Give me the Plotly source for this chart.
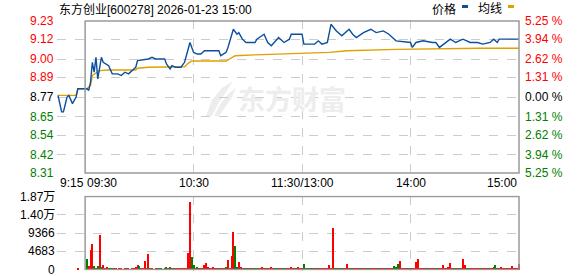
import plotly.graph_objects as go

W, H = 578, 276

# ---------------- data ----------------
title_text = "东方创业[600278] 2026-01-23 15:00"
prev_close = 8.77

# minutes since 9:15 (lunch break removed: 15 = 9:30, 135 = 11:30/13:00, 255 = 15:00)
price_min = [0, 2, 3, 5, 6, 8, 10, 11, 16, 17, 18, 19, 20, 21, 22, 24, 25, 28, 30, 33,
             35, 37, 39, 41, 43, 44, 50, 52, 54, 59, 60, 62, 63, 65, 68, 70, 73, 75, 77, 79,
             81, 89, 90, 93, 94, 97, 99, 100, 102, 104, 109, 110, 114, 116, 118, 122, 125, 128, 129, 135,
             136, 142, 144, 146, 149, 151, 154, 157, 161, 163, 165, 169, 173, 176, 180, 183, 185, 187, 195, 196,
             198, 202, 207, 209, 211, 217, 220, 224, 228, 232, 235, 239, 241, 243, 244, 255]
price_val = [8.78, 8.68, 8.68, 8.77, 8.78, 8.73, 8.77, 8.82, 8.82, 8.81, 8.86, 8.98, 8.92, 9.01, 8.88, 9.01, 8.98, 8.96, 8.91, 8.91,
             8.90, 8.92, 8.91, 8.93, 8.95, 8.99, 9.00, 9.01, 9.00, 9.00, 8.97, 8.94, 8.96, 8.95, 8.95, 8.98, 9.10, 9.04, 9.03, 9.03,
             9.05, 9.05, 9.02, 9.04, 9.07, 9.18, 9.15, 9.16, 9.12, 9.10, 9.10, 9.12, 9.15, 9.10, 9.08, 9.13, 9.10, 9.12, 9.15, 9.15,
             9.09, 9.09, 9.11, 9.09, 9.10, 9.21, 9.17, 9.14, 9.18, 9.15, 9.13, 9.16, 9.18, 9.16, 9.17, 9.15, 9.13, 9.11, 9.10, 9.07,
             9.10, 9.11, 9.10, 9.10, 9.07, 9.12, 9.10, 9.12, 9.10, 9.10, 9.09, 9.10, 9.12, 9.10, 9.12, 9.12]

avg_min = [0, 10, 11, 16, 18, 19, 23, 28, 43, 44, 50, 70, 72, 74, 93, 98, 109, 128, 150, 160, 187, 233, 255]
avg_val = [8.78, 8.78, 8.82, 8.82, 8.84, 8.90, 8.93, 8.933, 8.933, 8.944, 8.95, 8.953, 8.974, 8.988, 8.988,
           9.02, 9.025, 9.03, 9.04, 9.05, 9.058, 9.065, 9.065]

# volume per minute, minute 0 .. 255
volume = [
    0, 0, 0, 0, 0, 0, 0, 0, 0, 0, 0, 400, 0, 0, 0, 0,
    2900, 1100, 5200, 6700, 1100, 500, 1100, 8900, 850, 1400, 500, 850, 300, 300, 300, 300,
    300, 250, 300, 300, 250, 300, 300, 300, 250, 300, 300, 850, 1200, 1000, 300, 300,
    2200, 300, 4200, 300, 300, 250, 300, 300, 300, 300, 250, 300, 850, 300, 850, 300,
    300, 300, 300, 300, 300, 300, 300, 300, 4400, 17400, 3400, 1400, 300, 850, 300, 600,
    300, 1400, 1900, 850, 300, 300, 850, 300, 300, 600, 300, 300, 300, 850, 2650, 300,
    3700, 9800, 6200, 850, 2100, 850, 300, 300, 300, 300, 300, 300, 300, 300, 300, 300,
    300, 850, 300, 300, 300, 300, 850, 300, 300, 300, 300, 300, 300, 300, 300, 300,
    300, 750, 300, 300, 300, 750, 300, 300, 1500, 300, 300, 300, 300, 300, 300, 300,
    300, 300, 300, 300, 300, 300, 1300, 300, 10800, 300, 300, 300, 300, 300, 300, 300,
    1500, 300, 300, 300, 300, 300, 300, 300, 300, 300, 300, 300, 300, 300, 300, 300,
    300, 300, 300, 300, 300, 300, 300, 300, 300, 300, 1000, 700, 1500, 2300, 300, 400,
    300, 300, 300, 300, 300, 300, 2050, 2800, 300, 300, 300, 300, 300, 300, 300, 300,
    300, 300, 300, 300, 300, 1300, 300, 300, 700, 1800, 400, 300, 300, 300, 300, 300,
    2800, 1300, 300, 300, 300, 300, 300, 300, 300, 300, 300, 300, 300, 300, 300, 300,
    300, 700, 1300, 300, 300, 700, 300, 300, 300, 300, 300, 1000, 300, 300, 300, 1500,
]
# r = up minute, g = down minute
vol_dir = (
    "rrrrrrrrrrrrrrrr"
    "grrrgggrgrrrgggr"
    "rrrrrrgrrrrrrgrr"
    "rrrgrgrrggrggrgr"
    "rgrrrrrrrrggrgrr"
    "grrrrrrrrgrrrgrr"
    "rrggrrrggrggrggr"
    "rrrrgrrrggrrggrr"
    "rrrgrrrrgrgggrrg"
    "rrrrrrrrrggrggrr"
    "rrggrrrgrrrggrrr"
    "rgrrrgrrrrgggrrr"
    "rrggrrrrrrrrggrr"
    "rggrrrrrrrrggrgr"
    "rrggrrrrrrgrrrrg"
    "rrggrrrrrrrrrrrr"
)

price_ticks = [9.23, 9.12, 9.00, 8.89, 8.77, 8.65, 8.54, 8.42, 8.31]
pct_labels = ["5.25 %", "3.94 %", "2.62 %", "1.31 %", "0.00 %", "1.31 %", "2.62 %", "3.94 %", "5.25 %"]
vol_ticks = [18732, 14049, 9366, 4683, 0]
vol_labels = ["1.87万", "1.40万", "9366", "4683", "0"]
time_ticks = [0, 15, 75, 135, 195, 255]
time_labels = ["9:15", "09:30", "10:30", "11:30/13:00", "14:00", "15:00"]
legend_names = ["价格", "均线"]

# ---------------- style ----------------
RED, GREEN, BLACK = "#ff0000", "#008000", "#000000"
BLUE, GOLD = "#0b4f9e", "#e0a000"
FRAME, GRID = "#9a9a9a", "#cccccc"
FONT = "Liberation Sans, Noto Sans CJK SC, sans-serif"
WM = "#ededed"


def px_x(p):
    return p / W


def px_y(p):
    return 1 - p / H


p_top, p_bot = 9.23, 8.31
p_per_px = (p_top - p_bot) / 152.0
v_per_px = 18732 / 73.0
m_per_px = 255 / 461.0

fig = go.Figure()

fig.add_trace(go.Scatter(x=avg_min, y=avg_val, mode="lines",
                         line=dict(color=GOLD, width=1.4), xaxis="x", yaxis="y"))
fig.add_trace(go.Scatter(x=price_min, y=price_val, mode="lines",
                         line=dict(color=BLUE, width=1.4), xaxis="x", yaxis="y"))

bar_colors = [RED if d == "r" else GREEN for d in vol_dir]
fig.add_trace(go.Bar(x=list(range(len(volume))), y=volume, marker=dict(color=bar_colors, line=dict(width=0)),
                     width=0.6, xaxis="x2", yaxis="y2"))

xr = [-m_per_px, 255 + m_per_px]
xdom = [px_x(58 - 1), px_x(519 + 1)]
axis_common = dict(showline=False, zeroline=False, ticks="", showticklabels=False,
                   gridcolor=GRID, griddash="dash", gridwidth=1, fixedrange=True)

fig.update_layout(
    width=W, height=H, margin=dict(l=0, r=0, t=0, b=0), autosize=False,
    paper_bgcolor="white", plot_bgcolor="white", showlegend=False, bargap=0,
    xaxis=dict(domain=xdom, range=xr, tickmode="array", tickvals=[0, 75, 135, 195],
               showgrid=True, anchor="y", **axis_common),
    yaxis=dict(domain=[px_y(173 + 1), px_y(21 - 1)], range=[p_bot - p_per_px, p_top + p_per_px],
               tickmode="array", tickvals=price_ticks, showgrid=True, anchor="x", **axis_common),
    xaxis2=dict(domain=xdom, range=xr, tickmode="array", tickvals=[0, 75, 135, 195],
                showgrid=True, anchor="y2", **axis_common),
    yaxis2=dict(domain=[px_y(269.5 + 1), px_y(196.5 - 1)], range=[-v_per_px, 18732 + v_per_px],
                tickmode="array", tickvals=vol_ticks, showgrid=True, anchor="x2", **axis_common),
)

# watermark logo (light swoosh strokes), drawn below the data
def pth(points):
    s = "M " + " L ".join(f"{px_x(a):.5f},{px_y(b):.5f}" for a, b in points) + " Z"
    return s

fig.add_shape(type="path", xref="paper", yref="paper", layer="below",
              path=pth([(206, 116), (212, 100), (222, 88), (233, 81), (226, 92), (218, 104), (212, 116)]),
              fillcolor=WM, line=dict(width=0))
fig.add_shape(type="path", xref="paper", yref="paper", layer="below",
              path=pth([(214, 116), (221, 103), (229, 93), (236, 88), (231, 99), (224, 109), (219, 116)]),
              fillcolor=WM, line=dict(width=0))

# frames (trading session)
fig.add_shape(type="rect", xref="x", yref="y", x0=15, x1=255, y0=p_bot, y1=p_top,
              line=dict(color=FRAME, width=1.5), layer="above")
fig.add_shape(type="rect", xref="x2", yref="y2", x0=15, x1=255, y0=0, y1=18732,
              line=dict(color=FRAME, width=1.5), layer="above")

ann = []
# title
ann.append(dict(text=title_text, xref="paper", yref="paper", x=px_x(57), y=px_y(9),
                xanchor="left", yanchor="middle", showarrow=False,
                font=dict(family=FONT, size=12, color=BLACK)))
# legend
ann.append(dict(text=legend_names[0], xref="paper", yref="paper", x=px_x(430), y=px_y(9),
                xanchor="left", yanchor="middle", showarrow=False,
                font=dict(family=FONT, size=12, color=BLACK)))
ann.append(dict(text=legend_names[1], xref="paper", yref="paper", x=px_x(476), y=px_y(9),
                xanchor="left", yanchor="middle", showarrow=False,
                font=dict(family=FONT, size=12, color=BLACK)))
fig.add_shape(type="rect", xref="paper", yref="paper", x0=px_x(462), x1=px_x(468), y0=px_y(8), y1=px_y(5),
              fillcolor=BLUE, line=dict(width=0))
fig.add_shape(type="rect", xref="paper", yref="paper", x0=px_x(508), x1=px_x(514), y0=px_y(8), y1=px_y(5),
              fillcolor=GOLD, line=dict(width=0))

# price / percent labels
for p, pl in zip(price_ticks, pct_labels):
    c = RED if p > prev_close + 1e-9 else (GREEN if p < prev_close - 1e-9 else BLACK)
    ann.append(dict(text=f"{p:.2f}", xref="paper", yref="y", x=px_x(56), y=p,
                    xanchor="right", yanchor="middle", showarrow=False,
                    font=dict(family=FONT, size=12, color=c)))
    ann.append(dict(text=pl, xref="paper", yref="y", x=px_x(523), y=p,
                    xanchor="left", yanchor="middle", showarrow=False,
                    font=dict(family=FONT, size=12, color=c)))

# volume labels
for v, vl in zip(vol_ticks, vol_labels):
    ann.append(dict(text=vl, xref="paper", yref="y2", x=px_x(57), y=v,
                    xanchor="right", yanchor="middle", showarrow=False,
                    font=dict(family=FONT, size=12, color=BLACK)))

# time labels
anchors = ["left", "left", "center", "center", "center", "right"]
for t, tl, a in zip(time_ticks, time_labels, anchors):
    ann.append(dict(text=tl, xref="x", yref="paper", x=t, y=px_y(183),
                    xanchor=a, yanchor="middle", showarrow=False,
                    font=dict(family=FONT, size=12, color=BLACK)))

# watermark text
ann.append(dict(text="<b>东方财富</b>", xref="paper", yref="paper", x=px_x(292), y=px_y(98),
                xanchor="center", yanchor="middle", showarrow=False,
                font=dict(family="Noto Sans CJK SC, sans-serif", size=27, color=WM)))

fig.update_layout(annotations=ann)
fig.write_html("out.html")
